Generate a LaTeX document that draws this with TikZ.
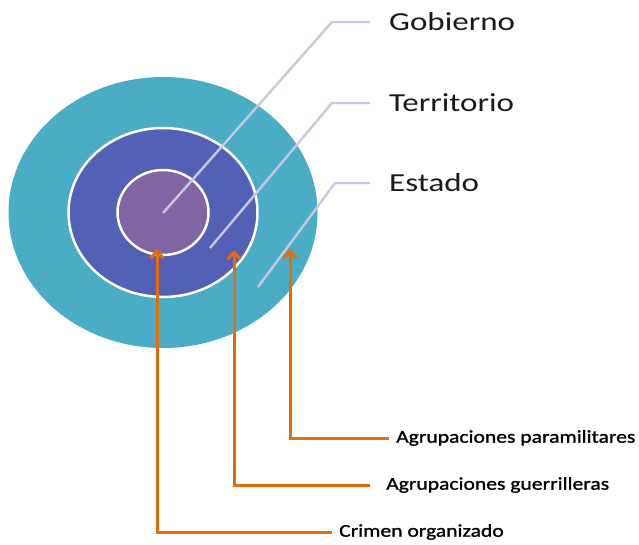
\documentclass[tikz,border=0pt]{standalone}
\usepackage{fontspec}
\newfontfamily\calwide[FakeStretch=1.27]{Carlito}
\newfontfamily\calnarrow[FakeStretch=1.2,FakeBold=1.2]{Carlito}
\usetikzlibrary{arrows.meta}

\begin{document}
\begin{tikzpicture}[x=1pt,y=-1pt,
    leader/.style={draw=myleader, line width=2.4pt},
    orangearrow/.style={draw=myorange, line width=3pt, -{Straight Barb[length=7pt,width=13pt]}},
    toplabel/.style={anchor=west, inner xsep=19pt, inner ysep=0pt, text=black!90, font=\calwide\fontsize{26}{30}\selectfont},
    botlabel/.style={anchor=west, inner ysep=0pt, text=black, font=\calnarrow\fontsize{18}{21}\selectfont}]
    \definecolor{myteal}{RGB}{75,172,198}
    \definecolor{myblue}{RGB}{82,97,181}
    \definecolor{mypurple}{RGB}{128,100,164}
    \definecolor{myleader}{RGB}{200,200,222}
    \definecolor{myorange}{RGB}{228,108,10}

    \useasboundingbox (0,0) rectangle (639,544);

    % rings
    \coordinate (centre) at (163,212.5);
    \fill[myteal] (centre) ellipse [x radius=154.5pt, y radius=135.5pt];
    \draw[white, line width=2.5pt, fill=myblue] (centre) ellipse [x radius=94.5pt, y radius=84.5pt];
    \draw[white, line width=2.5pt, fill=mypurple] (centre) ellipse [x radius=45.5pt, y radius=42.5pt];

    % leader lines to the names
    \foreach \nm/\px/\py/\ex/\ey/\txt in {gob/163/213/332/22/Gobierno,
                                          terr/210/248/332/103/Territorio,
                                          est/258/287/335/183/Estado} {
        \node[toplabel] (\nm) at (370,\ey) {\txt};
        \coordinate (\nm pt) at (\px,\py);
        \coordinate (\nm elb) at (\ex,\ey);
        \draw[leader] (\nm pt) -- (\nm elb) -- (\nm.west);
    }

    % orange arrows from the actors
    \foreach \nm/\x/\tip/\y/\xe/\sep/\txt in {crimen/157/249/532/332/7/Crimen organizado,
                                              guerr/234/250/485/370/16/Agrupaciones guerrilleras,
                                              param/290/249/438/389/7/Agrupaciones paramilitares} {
        \node[botlabel, inner xsep=\sep pt] (\nm) at (\xe,\y) {\txt};
        \coordinate (\nm tip) at (\x,\tip);
        \draw[orangearrow] (\nm.west) -| (\nm tip);
    }
\end{tikzpicture}
\end{document}
